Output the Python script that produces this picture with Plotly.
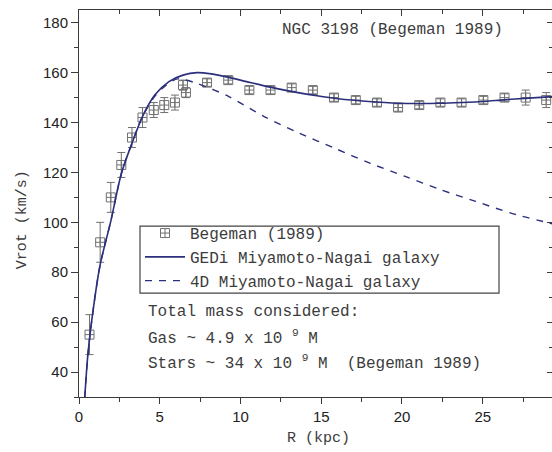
import plotly.graph_objects as go

# Begeman (1989) rotation curve data
obs_r = [0.65, 1.31, 1.97, 2.62, 3.28, 3.93, 4.63, 5.28, 5.94, 6.44, 6.62, 7.93, 9.24,
         10.55, 11.86, 13.17, 14.48, 15.79, 17.14, 18.45, 19.76, 21.07, 22.38, 23.69,
         25.04, 26.35, 27.66, 28.93]
obs_v = [55, 92, 110, 123, 134, 142, 145, 147, 148, 155, 152, 156, 157,
         153, 153, 154, 153, 150, 149, 148, 146, 147, 148, 148,
         149, 150, 150, 149]
obs_err = [8, 8, 6, 5, 4, 4, 3, 3, 3, 2, 2, 1.5, 1.5,
           1.5, 1.5, 1.5, 1.5, 1.5, 1.5, 1.5, 1.5, 1.5, 1.5, 1.5,
           1.5, 1.5, 3, 3]

# GEDi Miyamoto-Nagai model curve
gedi_r = [0.3, 0.55, 0.9, 1.31, 1.97, 2.62, 3.28, 3.93, 4.69, 5.57, 6.44, 7.31, 8.19,
          9.28, 10.37, 11.68, 13.21, 14.74, 16.05, 17.93, 19.76, 21.07, 22.38, 23.69,
          25.0, 26.31, 27.62, 29.3]
gedi_v = [24, 47, 66, 83, 100.5, 119.5, 131.7, 142.4, 151, 156.4, 159, 160, 159.5,
          158.1, 156.4, 154.4, 152.4, 150.7, 149.5, 148.4, 147.7, 147.6, 147.7, 148,
          148.4, 149.1, 149.7, 150.4]

# 4D Miyamoto-Nagai model curve
fourd_r = [0.3, 0.55, 0.9, 1.31, 1.97, 2.62, 3.28, 3.93, 4.69, 5.4, 6.11, 7.31, 9.28,
           11.46, 13.65, 15.83, 18.01, 20.2, 22.38, 24.56, 26.75, 28.93, 29.3]
fourd_v = [24, 47, 66, 83, 100.5, 119.5, 131.7, 142.4, 150.5, 155, 157.5, 155.7, 150.4,
           142.4, 135.7, 129.7, 123.7, 118.4, 113.1, 108.4, 103.7, 100, 99.4]

x_ticks = [0, 5, 10, 15, 20, 25]
y_ticks = [40, 60, 80, 100, 120, 140, 160, 180]

MONO = "Liberation Mono, Courier New, monospace"
SANS = "Liberation Sans, Arial, sans-serif"
NAVY = "#2c2f7c"
GREY = "#707070"
AX = "#3a3a3a"
TXT = "#3c3c3c"

# plot area geometry (pixels)
L, R, T, B = 79, 552, 10, 396.7
W, H = R - L, B - T


def px(x):
    return (x - L) / W


def py(y):
    return (B - y) / H


fig = go.Figure()
fig.add_trace(go.Scatter(
    x=obs_r, y=obs_v, mode="markers", name="Begeman (1989)",
    marker=dict(symbol="square-cross-open", size=9, color=GREY, line=dict(width=1, color=GREY)),
    error_y=dict(type="data", array=obs_err, visible=True, color=GREY, thickness=1, width=4),
))
fig.add_trace(go.Scatter(
    x=gedi_r, y=gedi_v, mode="lines", name="GEDi Miyamoto-Nagai galaxy",
    line=dict(color=NAVY, width=1.6, shape="spline", smoothing=0.8),
))
fig.add_trace(go.Scatter(
    x=fourd_r, y=fourd_v, mode="lines", name="4D Miyamoto-Nagai galaxy",
    line=dict(color=NAVY, width=1.4, dash="7px,7px", shape="spline", smoothing=0.8),
))

xr = [0, 29.29]
yr = [30, 185.1]

fig.update_layout(
    width=552, height=452,
    margin=dict(l=L, r=552 - R, t=T, b=452 - B),
    paper_bgcolor="white", plot_bgcolor="white",
    showlegend=True,
    legend=dict(
        x=px(140), y=py(216), xanchor="left", yanchor="top",
        bgcolor="rgba(0,0,0,0)", borderwidth=0,
        font=dict(family=MONO, size=16, color=TXT),
        tracegroupgap=0, itemwidth=40,
    ),
    xaxis=dict(
        range=xr, tickvals=x_ticks, ticks="outside", ticklen=6, tickwidth=1, tickcolor=AX,
        showline=True, linecolor=AX, linewidth=1, showgrid=False, zeroline=False,
        tickfont=dict(family=SANS, size=15, color="#222"),
        minor=dict(dtick=2.5, tick0=0, ticks="outside", ticklen=4, tickcolor=AX, showgrid=False),
    ),
    xaxis2=dict(
        range=xr, overlaying="x", side="top", matches="x", tickvals=x_ticks,
        ticks="inside", ticklen=6, tickcolor=AX, showline=True, linecolor=AX,
        showticklabels=False, showgrid=False, zeroline=False,
        minor=dict(dtick=2.5, tick0=0, ticks="inside", ticklen=4, tickcolor=AX, showgrid=False),
    ),
    yaxis=dict(
        range=yr, tickvals=y_ticks, ticks="outside", ticklen=7, tickwidth=1, tickcolor=AX,
        showline=True, linecolor=AX, linewidth=1, showgrid=False, zeroline=False,
        tickfont=dict(family=SANS, size=15, color="#222"),
        minor=dict(dtick=10, tick0=30, ticks="outside", ticklen=4, tickcolor=AX, showgrid=False),
    ),
    yaxis2=dict(
        range=yr, overlaying="y", side="right", matches="y", tickvals=y_ticks,
        ticks="inside", ticklen=5, tickcolor=AX, showline=True, linecolor=AX,
        showticklabels=False, showgrid=False, zeroline=False,
        minor=dict(dtick=10, tick0=30, ticks="inside", ticklen=3, tickcolor=AX, showgrid=False),
    ),
)
# invisible trace to activate the mirrored axes
fig.add_trace(go.Scatter(x=[None], y=[None], xaxis="x2", yaxis="y2", showlegend=False, hoverinfo="skip"))

fig.add_shape(type="rect", xref="paper", yref="paper",
              x0=px(140), x1=px(499), y0=py(293), y1=py(226),
              line=dict(color="#444", width=1.2))

ann = dict(xref="paper", yref="paper", showarrow=False, xanchor="left", yanchor="middle",
           font=dict(family=MONO, size=16, color=TXT))
fig.add_annotation(text="NGC 3198 (Begeman 1989)", x=px(280), y=py(30), **ann)
fig.add_annotation(text="Total mass considered:", x=px(146), y=py(312), **ann)
fig.add_annotation(text="Gas ~ 4.9 x 10 <sup>9</sup> M", x=px(146), y=py(337), **ann)
fig.add_annotation(text="Stars ~ 34 x 10 <sup>9</sup> M  (Begeman 1989)", x=px(146), y=py(362), **ann)
fig.add_annotation(text="R (kpc)", x=px(318), y=py(438), xanchor="center",
                   xref="paper", yref="paper", showarrow=False, yanchor="middle",
                   font=dict(family=MONO, size=15, color=TXT))
fig.add_annotation(text="Vrot (km/s)", x=px(22), y=py(220), xanchor="center",
                   xref="paper", yref="paper", showarrow=False, yanchor="middle", textangle=-90,
                   font=dict(family=MONO, size=15, color=TXT))

fig.write_html("out.html", config={"displayModeBar": False},
               post_script="document.body.style.margin='0px';document.body.style.padding='0px';")
